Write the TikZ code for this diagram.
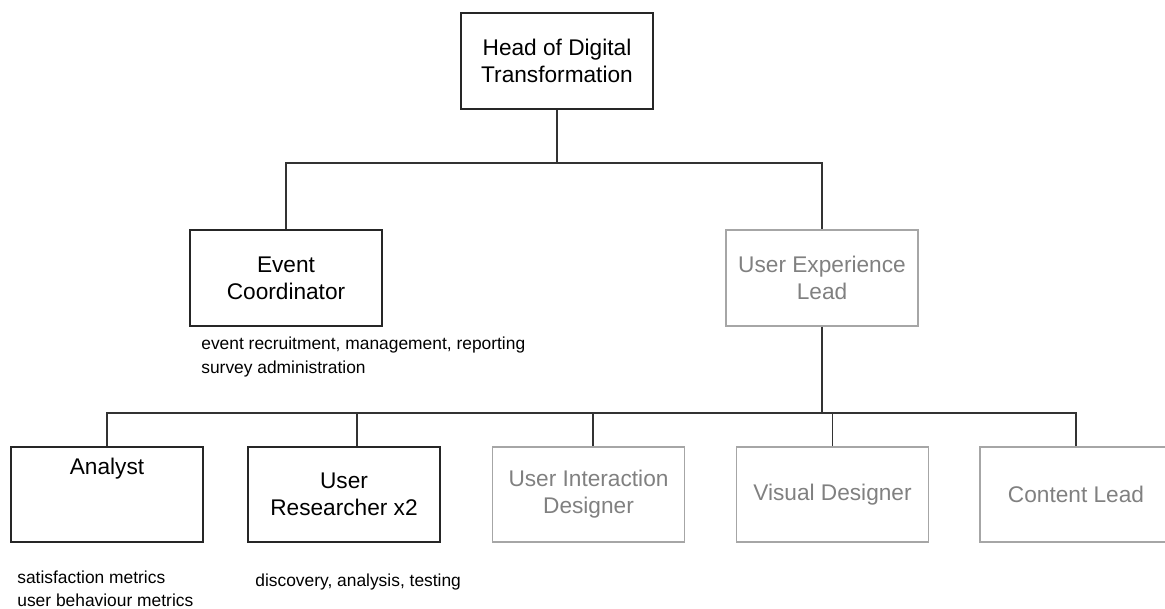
\documentclass[tikz,border=0pt]{standalone}
\usepackage{fontspec}
\setmainfont{Liberation Sans}
\begin{document}
\begin{tikzpicture}[x=0.02cm, y=-0.02cm,
    role/.style={draw=black!85, line width=0.8pt, minimum width=3.84cm,
      minimum height=1.9cm, align=center, inner sep=0pt,
      font=\fontsize{12.9}{15.4}\selectfont},
    vacant/.style={role, draw=black!35, text=black!50},
    notes/.style={anchor=west, align=left, inner sep=0pt,
      font=\fontsize{9.9}{13.1}\selectfont},
    link/.style={draw=black!80, line width=0.6pt}]
  \useasboundingbox (0,0) rectangle (1165,608);
  \draw
    (557,61) node[role, minimum height=1.92cm] (head){Head of Digital\\Transformation}
    (286,278) node[role, minimum height=1.92cm] (event){Event\\Coordinator}
    (822,278) node[vacant, minimum height=1.92cm] (ux){User Experience\\Lead}
    (107,494.5) node[role, label={[anchor=center, yshift=-0.45cm,
      font=\fontsize{12.9}{15.4}\selectfont]north:Analyst}] (analyst){}
    (344,494.5) node[role] (research){User\\Researcher x2}
    (588.5,494.5) node[vacant] (uid){User Interaction\\Designer}
    (832.5,494.5) node[vacant] (visual){Visual Designer}
    (1076,494.5) node[vacant] (content){Content Lead};
  % notes under the boxes
  \node[notes] (eventnotes) at (201,357) {event recruitment, management, reporting\\survey administration};
  \node[notes] (analystnotes) at (17,589) {satisfaction metrics\\user behaviour metrics};
  \node[notes] (researchnotes) at (255,582) {discovery, analysis, testing};
  \coordinate (topbus) at (557,163);
  \coordinate (lowbus) at (822,413);
  \begin{scope}[link]
    \draw (head) -- (topbus);
    \draw (event.north) |- (topbus) -| (ux.north);
    \draw (ux) -- (lowbus);
    \draw (analyst.north) |- (lowbus);
    \draw (content.north) |- (lowbus);
    \draw ([xshift=0.26cm]research.north) -- ([xshift=0.26cm]research.north |- lowbus);
    \draw ([xshift=0.09cm]uid.north) -- ([xshift=0.09cm]uid.north |- lowbus);
    \draw (visual.north) -- (visual.north |- lowbus);
  \end{scope}
\end{tikzpicture}
\end{document}
